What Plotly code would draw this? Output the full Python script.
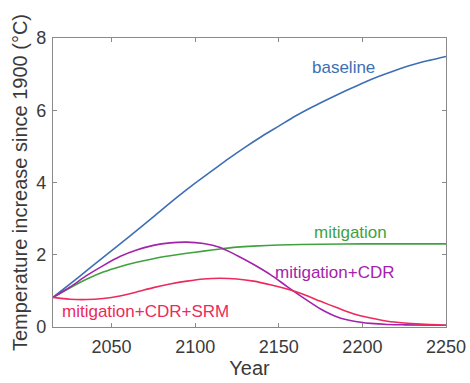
import plotly.graph_objects as go

years_baseline = [2015, 2030, 2045, 2060, 2075, 2090, 2100, 2110, 2120, 2130, 2140,
                  2150, 2160, 2170, 2180, 2190, 2200, 2210, 2220, 2230, 2240, 2250]
baseline = [0.82, 1.37, 1.93, 2.48, 3.05, 3.62, 3.98, 4.32, 4.66, 4.98, 5.28,
            5.56, 5.84, 6.09, 6.32, 6.54, 6.75, 6.94, 7.11, 7.26, 7.38, 7.49]

years_mit = [2015, 2025, 2035, 2045, 2055, 2065, 2075, 2085, 2095, 2105, 2115,
             2125, 2135, 2150, 2175, 2200, 2250]
mitigation = [0.82, 1.08, 1.32, 1.52, 1.67, 1.79, 1.89, 1.97, 2.04, 2.10, 2.16,
              2.21, 2.24, 2.27, 2.29, 2.30, 2.30]

years_cdr = [2015, 2025, 2035, 2045, 2055, 2065, 2075, 2085, 2095, 2105, 2115,
             2125, 2135, 2145, 2155, 2165, 2175, 2185, 2195, 2205, 2215, 2225, 2250]
mit_cdr = [0.82, 1.10, 1.42, 1.70, 1.95, 2.13, 2.26, 2.33, 2.35, 2.31, 2.20,
           1.98, 1.73, 1.45, 1.12, 0.80, 0.50, 0.28, 0.16, 0.10, 0.07, 0.06, 0.05]

years_srm = [2015, 2025, 2035, 2045, 2055, 2065, 2075, 2085, 2095, 2105, 2115,
             2125, 2135, 2145, 2155, 2165, 2175, 2185, 2195, 2205, 2215, 2225, 2235, 2250]
mit_cdr_srm = [0.82, 0.77, 0.76, 0.79, 0.86, 0.97, 1.09, 1.19, 1.27, 1.33, 1.35,
               1.33, 1.27, 1.17, 1.05, 0.90, 0.71, 0.53, 0.36, 0.25, 0.16, 0.11, 0.08, 0.05]

x_ticks = [2050, 2100, 2150, 2200, 2250]
y_ticks = [0, 2, 4, 6, 8]

series = [
    ("baseline", years_baseline, baseline, "#3d6fb4", 2189, 7.19),
    ("mitigation", years_mit, mitigation, "#3fa23f", 2192.6, 2.61),
    ("mitigation+CDR", years_cdr, mit_cdr, "#a323ac", 2183.8, 1.52),
    ("mitigation+CDR+SRM", years_srm, mit_cdr_srm, "#ec2a5c", 2070.5, 0.43),
]

FONT = "Liberation Sans, Arial, Helvetica, sans-serif"

fig = go.Figure()
for name, xs, ys, color, lx, ly in series:
    fig.add_trace(go.Scatter(x=xs, y=ys, mode="lines", name=name,
                             line=dict(color=color, width=1.6, shape="spline", smoothing=0.8),
                             showlegend=False))
    fig.add_annotation(x=lx, y=ly, text=name, showarrow=False,
                       font=dict(family=FONT, size=17, color=color),
                       xanchor="center", yanchor="middle")

axis_common = dict(showgrid=False, zeroline=False, showline=True, linecolor="#8a8a8a",
                   linewidth=1.2, mirror="ticks", ticks="inside", ticklen=4,
                   tickcolor="#8a8a8a", tickwidth=1,
                   tickfont=dict(family=FONT, size=18, color="#3a3a3a"))

fig.update_xaxes(range=[2015, 2250], tickvals=x_ticks, ticklabelstandoff=3, **axis_common,
                 title=dict(text="Year", font=dict(family=FONT, size=20, color="#3a3a3a"),
                            standoff=0))
fig.update_yaxes(range=[0, 8], tickvals=y_ticks, ticklabelstandoff=2, **axis_common,
                 title=dict(text="Temperature increase since 1900 (°C)",
                            font=dict(family=FONT, size=20, color="#3a3a3a"), standoff=3))

fig.update_layout(width=470, height=383, margin=dict(l=53, r=24, t=38, b=56, autoexpand=False),
                  paper_bgcolor="white", plot_bgcolor="white",
                  font=dict(family=FONT))

fig.write_html("out.html")
